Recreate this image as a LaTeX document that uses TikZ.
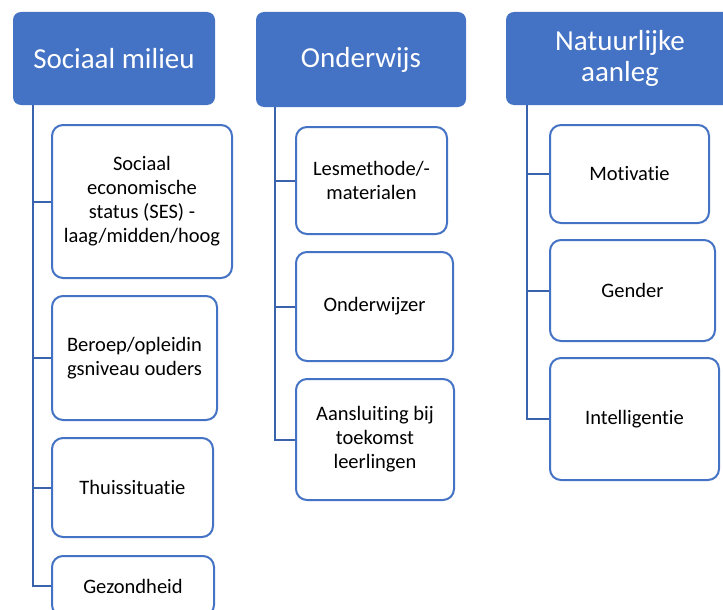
\documentclass[tikz,border=0pt]{standalone}
\usepackage{fontspec}
\setmainfont[Ligatures=NoCommon]{Carlito}
\definecolor{hdrblue}{HTML}{4472C4}
\definecolor{boxblue}{HTML}{4472C4}
\definecolor{linkblue}{HTML}{3A63AD}
\begin{document}
\begin{tikzpicture}[x=1pt,y=-1pt,
  hdr/.style={draw=none, fill=hdrblue, rounded corners=8pt, text=white, align=center,
    inner sep=0pt, font=\fontsize{29}{31}\selectfont},
  child/.style={draw=boxblue, line width=2pt, fill=white, rounded corners=11pt, text=black,
    align=center, inner sep=0pt, font=\fontsize{20.5}{24}\selectfont},
  link/.style={draw=linkblue, line width=2pt}]
\useasboundingbox (0,0) rectangle (723,610);
% headers
\node[hdr, minimum width=202pt, minimum height=93pt] (h1) at (114,58.5) {Sociaal milieu};
\node[hdr, minimum width=210pt, minimum height=95pt] (h2) at (361,59.5) {Onderwijs};
\node[hdr, minimum width=228pt, minimum height=93pt] (h3) at (620,58.5) {Natuurlijke\\aanleg};
% column 1
\node[child, minimum width=180pt, minimum height=153pt] (c11) at (142,201.5) {Sociaal\\economische\\status (SES) -\\laag/midden/hoog};
\node[child, minimum width=165pt, minimum height=124pt] (c12) at (134.5,358) {Beroep/opleidin\\gsniveau ouders};
\node[child, minimum width=161pt, minimum height=99pt] (c13) at (132.5,487.5) {Thuissituatie};
\node[child, minimum width=162pt, minimum height=60pt] (c14) at (133,586) {Gezondheid};
% column 2
\node[child, minimum width=151pt, minimum height=107pt] (c21) at (371.5,180.5) {Lesmethode/-\\materialen};
\node[child, minimum width=157pt, minimum height=109pt] (c22) at (374.5,306.5) {Onderwijzer};
\node[child, minimum width=158pt, minimum height=121pt] (c23) at (375,439.5) {Aansluiting bij\\toekomst\\leerlingen};
% column 3
\node[child, minimum width=159pt, minimum height=98pt] (c31) at (629.5,174) {Motivatie};
\node[child, minimum width=165pt, minimum height=101pt] (c32) at (632.5,290.5) {Gender};
\node[child, minimum width=169pt, minimum height=122pt] (c33) at (634.5,419) {Intelligentie};
% connectors
\coordinate (r1) at ([xshift=20pt]h1.south west);
\coordinate (r2) at ([xshift=19pt]h2.south west);
\coordinate (r3) at ([xshift=21pt]h3.south west);
\foreach \c in {c11,c12,c13,c14} \draw[link] (r1) |- (\c.west);
\foreach \c in {c21,c22,c23} \draw[link] (r2) |- (\c.west);
\foreach \c in {c31,c32,c33} \draw[link] (r3) |- (\c.west);
\end{tikzpicture}
\end{document}
